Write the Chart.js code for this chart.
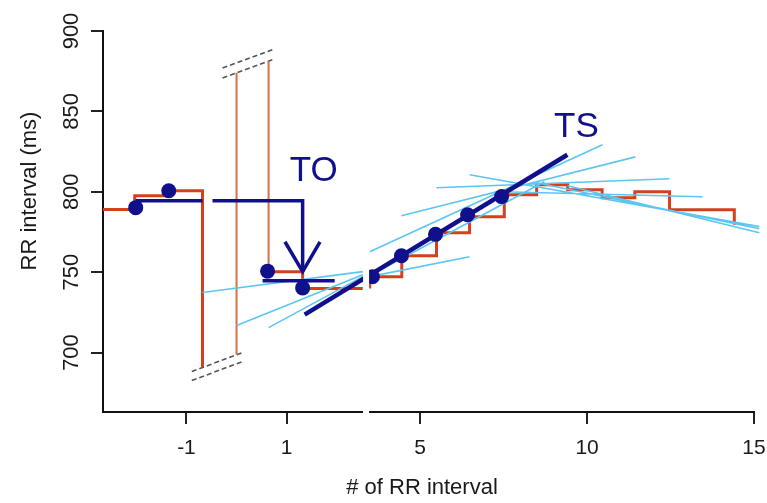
<!DOCTYPE html>
<html>
<head>
<meta charset="utf-8">
<script src="https://cdn.jsdelivr.net/npm/chart.js@4.4.1/dist/chart.umd.min.js"></script>
<style>
  html, body { margin: 0; padding: 0; background: #fff; }
</style>
</head>
<body>
<canvas id="myChart" width="767" height="503"></canvas>
<script>
// x = slot on the drawn axis (the axis is broken, so the -1 label sits one slot left)
const xTickPos = [-2, 1, 5, 10, 15];
const xTickLabels = ['-1', '1', '5', '10', '15'];
const yTicks = [700, 750, 800, 850, 900];

// red RR tachogram, drawn as steps; null = cut by the axis break
const rrX = [-4.5, -3.55, -2.55, -1.52, -1.0, 0.46, 1.48, 3.28, 3.38, 3.49, 3.49, 4.45, 5.49, 6.48, 7.52, 8.49, 9.42, 10.45, 11.43, 12.47, 13.45, 14.41, 14.41];
const rrY = [789, 797.5, 800.6, 691, null, 750.3, 739.8, 739.8, null, 739.8, 747.2, 760.2, 774.5, 784.5, 798.1, 804.3, 801.2, 796.3, 800, 788.8, 788.8, 788.8, 779.5];

// premature beat and compensatory pause (thin, cut by the broken y axis)
const pauseX = [-0.5, -0.5, 0, 0.46, 0.46];
const pauseY = [698.6, 874, null, 881.2, 750.3];

// RR intervals (blue dots)
const dotX = [-3.52, -2.53, 0.43, 1.48, 3.57, 4.44, 5.46, 6.42, 7.44];
const dotY = [790.1, 800.6, 750.6, 740.2, 747.2, 760.2, 773.5, 785.7, 797];

// regression lines over 5 beats (light blue)
const fitX0 = [-1.52, -0.5, 0.46, 3.49, 4.44, 5.49, 6.48, 3.49, 7.47, 8.49, 9.41, 3.49];
const fitY0 = [737.3, 716.8, 715.5, 762.7, 785.1, 802.5, 810.6, 747.2, 800, 805.6, 803.7, 747.8];
const fitX1 = [3.28, 3.28, 3.28, 10.46, 11.45, 12.47, 15.16, 6.48, 13.46, 15.16, 15.16, 8.72];
const fitY1 = [750.3, 748.4, 747.2, 829.2, 821.7, 808.1, 778.3, 759.6, 796.9, 777, 774.5, 806.2];

// turbulence slope (TS) and onset (TO)
const tsX = [1.54, 9.41];
const tsY = [723.6, 823];
const preX = [-3.52, -1.52];
const preY = [794.4, 794.4];
const toX = [-1.22, 1.48, 1.48];
const toY = [794.4, 794.4, 750.3];
const headX = [0.95, 1.48, 2.0];
const headY = [768.9, 750.3, 768.9];
const postX = [0.28, 2.44];
const postY = [744.7, 744.7];

// axis break marks
const brkX0 = [-0.92, -0.92, -1.84, -1.84];
const brkY0 = [877, 870.8, 688.2, 682.6];
const brkX1 = [0.64, 0.64, -0.32, -0.32];
const brkY1 = [888.8, 882.6, 700, 694.4];
const gapX = [3.29, 3.47];

const noteText = ['TO', 'TS'];
const noteX = [1.81, 9.68];
const noteY = [813, 839.8];

const NAVY = '#10108c';
const RED = '#d2401e';
const SKY = '#5cc6f2';
const FONT = '"Liberation Sans", Arial, sans-serif';

function pts(xs, ys) {
  return xs.map((x, i) => ({ x: x, y: ys[i] }));
}
function segs(x0, y0, x1, y1) {
  let out = [];
  for (let i = 0; i < x0.length; i++) {
    out.push({ x: x0[i], y: y0[i] }, { x: x1[i], y: y1[i] }, { x: x1[i], y: null });
  }
  return out;
}
function line(data, color, width, order, extra) {
  return Object.assign({
    data: data, showLine: true, borderColor: color, borderWidth: width,
    pointRadius: 0, pointHoverRadius: 0, spanGaps: false, clip: false, order: order
  }, extra || {});
}

const decor = {
  id: 'decor',
  afterDatasetsDraw(chart) {
    const ctx = chart.ctx, area = chart.chartArea;
    const x = chart.scales.x, y = chart.scales.y;
    // white gap of the broken x axis
    const g0 = x.getPixelForValue(gapX[0]), g1 = x.getPixelForValue(gapX[1]);
    ctx.save();
    ctx.fillStyle = '#fff';
    ctx.fillRect(g0, area.top, g1 - g0, area.bottom - area.top + 3);

    ctx.fillStyle = NAVY;
    ctx.font = '35px ' + FONT;
    ctx.textAlign = 'center';
    ctx.textBaseline = 'middle';
    noteText.forEach((t, i) => {
      ctx.fillText(t, x.getPixelForValue(noteX[i]), y.getPixelForValue(noteY[i]));
    });

    ctx.fillStyle = '#1a1a1a';
    ctx.font = '22px ' + FONT;
    yTicks.forEach(v => {
      ctx.save();
      ctx.translate(72, y.getPixelForValue(v));
      ctx.rotate(-Math.PI / 2);
      ctx.fillText(String(v), 0, 0);
      ctx.restore();
    });
    ctx.save();
    ctx.translate(30, 191);
    ctx.rotate(-Math.PI / 2);
    ctx.fillText('RR interval (ms)', 0, 0);
    ctx.restore();
    ctx.fillText('# of RR interval', 422, 488);
    ctx.restore();
  }
};

var ctx = document.getElementById('myChart');
const config = {
  type: 'scatter',
  data: {
    datasets: [
      line(pts(dotX, dotY), NAVY, 0, 0, { showLine: false, pointRadius: 7.5, pointBackgroundColor: NAVY, pointBorderWidth: 0 }),
      line(pts(tsX, tsY), NAVY, 4.5, 1),
      line(pts(preX, preY), NAVY, 3.5, 1),
      line(pts(toX, toY), NAVY, 3.5, 1),
      line(pts(headX, headY), NAVY, 3.5, 1),
      line(pts(postX, postY), NAVY, 3.5, 1),
      line(segs(fitX0, fitY0, fitX1, fitY1), SKY, 1.6, 2),
      line(pts(rrX, rrY), RED, 3, 3, { stepped: true }),
      line(pts(pauseX, pauseY), '#e06a48', 2, 3),
      line(segs(brkX0, brkY0, brkX1, brkY1), '#555', 1.6, 4, { borderDash: [5, 3] })
    ]
  },
  options: {
    responsive: false,
    animation: false,
    events: [],
    layout: { padding: { top: 31, right: 13, left: 0, bottom: 0 } },
    plugins: { legend: { display: false }, tooltip: { enabled: false } },
    scales: {
      x: {
        type: 'linear', min: -4.5, max: 15,
        afterBuildTicks: s => { s.ticks = xTickPos.map(v => ({ value: v })); },
        afterFit: s => { s.height = 91; s.paddingLeft = 0; s.paddingRight = 0; },
        grid: { drawOnChartArea: false, tickLength: 12, color: '#222', lineWidth: 2 },
        border: { color: '#111', width: 2 },
        ticks: {
          padding: 12, color: '#1a1a1a', font: { size: 21, family: FONT },
          maxRotation: 0, autoSkip: false,
          callback: (v, i) => xTickLabels[i]
        }
      },
      y: {
        type: 'linear', min: 663, max: 900,
        afterBuildTicks: s => { s.ticks = yTicks.map(v => ({ value: v })); },
        afterFit: s => { s.width = 103; s.paddingTop = 0; s.paddingBottom = 0; },
        grid: { drawOnChartArea: false, tickLength: 12, color: '#222', lineWidth: 2 },
        border: { color: '#111', width: 2 },
        ticks: { display: false }
      }
    }
  },
  plugins: [decor]
};
var myChart = new Chart(ctx, config);
</script>
</body>
</html>
